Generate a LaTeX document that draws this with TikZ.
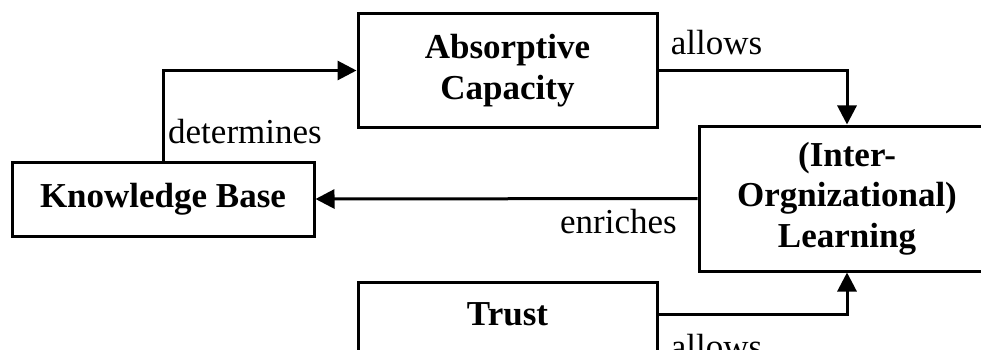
\documentclass[tikz,border=0pt]{standalone}
\usepackage{fontspec}
\setmainfont{Liberation Serif}
\usetikzlibrary{arrows.meta}
\begin{document}
\begin{tikzpicture}[x=1pt,y=1pt,
  box/.style={draw, line width=3pt, inner sep=0pt, font=\fontsize{35}{40.5}\selectfont\bfseries, align=center},
  lab/.style={font=\fontsize{35}{40}\selectfont, inner sep=0pt, anchor=base},
  arr/.style={line width=3pt, -{Triangle[length=19pt,width=19pt]}}]
\clip (0,0) rectangle (981,-350);
\node[box, minimum width=302, minimum height=74] (kb) at (163,-199) {Knowledge Base};
\node[box, minimum width=299, minimum height=113] (ac) at (507.5,-70.5) {Absorptive\\Capacity};
\node[box, minimum width=296, minimum height=145] (learn) at (847,-198.5) {(Inter-\\Orgnizational)\\Learning};
\node[box, minimum width=299, text height=43pt, text depth=71pt, anchor=north] (trust) at (507.5,-281) {Trust};
\coordinate (tr) at ([yshift=-33pt]trust.north east);
\draw[arr] (kb.north) |- (ac.west);
\draw[arr] (ac.east) -| (learn.north);
\draw[arr] (learn.west) -- (kb.east);
\draw[arr] (tr) -| (learn.south);
\node[lab, anchor=base west] (l1) at (168,-143) {determines};
\node[lab] (l2) at (716.5,-55) {allows};
\node[lab] (l3) at (618.5,-233) {enriches};
\node[lab] (l4) at (716.5,-358) {allows};
\end{tikzpicture}
\end{document}
